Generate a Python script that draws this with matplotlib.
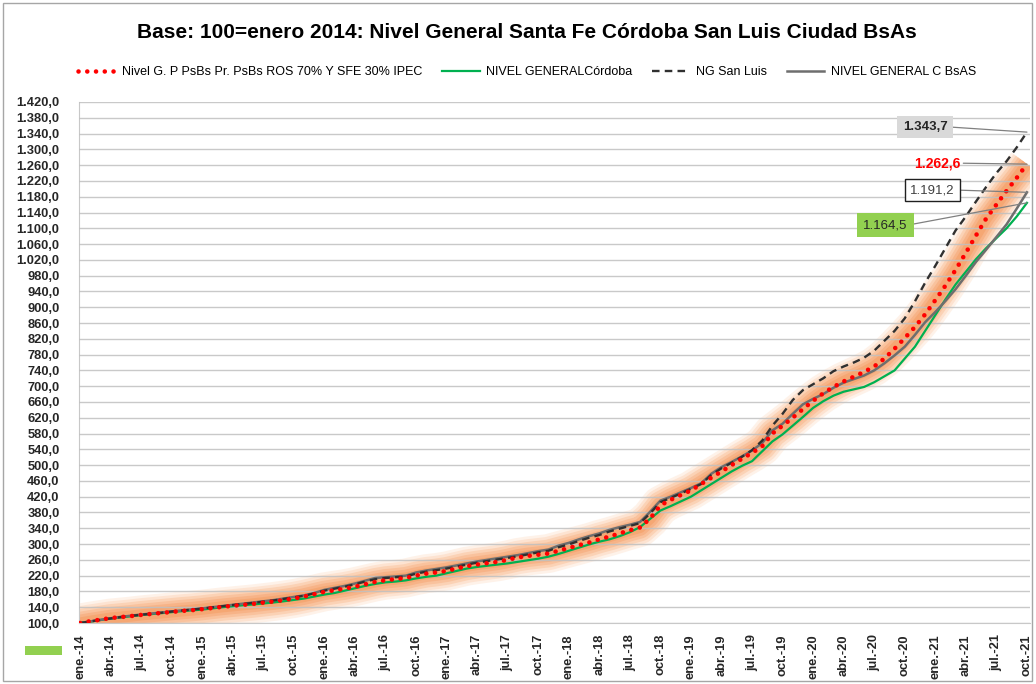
import matplotlib
matplotlib.use("Agg")
import matplotlib.pyplot as plt
from matplotlib.lines import Line2D
from matplotlib.patches import Rectangle

# 1. Data (monthly index, base 100 = enero 2014, ene-14 .. oct-21)
santa_fe = [100.0, 104.5, 108.5, 112.5, 115.0, 117.5, 120.5, 123.0, 125.5, 128.0, 130.5, 132.5,
            135.0, 138.0, 141.0, 143.5, 146.0, 148.5, 151.5, 154.5, 158.0, 162.0, 167.0, 173.0,
            179.0, 183.0, 187.0, 192.0, 198.0, 204.0, 208.5, 211.0, 214.0, 220.0, 225.0, 228.0,
            232.0, 238.0, 244.0, 248.0, 251.5, 255.0, 260.0, 266.0, 270.0, 273.0, 276.0, 283.0,
            290.0, 297.0, 304.0, 312.0, 319.0, 327.0, 335.0, 342.0, 365.0, 398.0, 412.0, 424.0,
            436.0, 452.0, 468.0, 484.0, 500.0, 516.0, 531.0, 548.0, 580.0, 600.0, 620.0, 642.0,
            663.0, 682.0, 698.0, 712.0, 724.0, 736.0, 750.0, 770.0, 795.0, 822.0, 850.0, 882.0,
            918.0, 955.0, 995.0, 1038.0, 1082.0, 1125.0, 1160.0, 1195.0, 1228.0, 1262.6]

cordoba = [100.0, 103.5, 107.5, 111.0, 114.0, 117.0, 120.0, 122.5, 125.0, 127.5, 130.0, 132.0,
           134.0, 137.0, 140.0, 142.5, 145.0, 147.0, 149.5, 152.0, 155.0, 158.5, 162.0, 167.0,
           172.0, 176.0, 182.0, 188.0, 194.0, 199.0, 203.0, 205.0, 208.0, 213.0, 217.0, 220.0,
           226.0, 232.0, 238.0, 242.0, 245.0, 248.0, 251.0, 255.0, 259.0, 263.0, 268.0, 275.0,
           283.0, 291.0, 299.0, 306.0, 312.0, 320.0, 330.0, 343.0, 364.0, 385.0, 396.0, 408.0,
           420.0, 436.0, 452.0, 468.0, 484.0, 498.0, 510.0, 535.0, 560.0, 578.0, 600.0, 622.0,
           645.0, 662.0, 676.0, 686.0, 692.0, 698.0, 710.0, 725.0, 740.0, 770.0, 800.0, 840.0,
           880.0, 920.0, 958.0, 990.0, 1022.0, 1050.0, 1075.0, 1100.0, 1130.0, 1164.5]

san_luis = [100.0, 104.0, 108.0, 111.5, 115.0, 118.0, 121.0, 123.5, 126.0, 129.0, 131.5, 134.0,
            136.5, 139.5, 142.5, 145.5, 148.0, 151.0, 154.0, 157.0, 161.0, 165.0, 169.0, 175.0,
            182.0, 187.0, 192.0, 198.0, 205.0, 211.0, 214.0, 216.0, 218.0, 225.0, 230.0, 234.0,
            238.0, 243.0, 248.0, 253.0, 257.0, 261.0, 265.0, 269.0, 274.0, 279.0, 283.0, 292.0,
            299.0, 308.0, 316.0, 323.0, 332.0, 339.0, 346.0, 353.0, 378.0, 406.0, 417.0, 428.0,
            440.0, 452.0, 475.0, 492.0, 506.0, 521.0, 538.0, 562.0, 600.0, 630.0, 665.0, 690.0,
            705.0, 720.0, 738.0, 750.0, 760.0, 772.0, 790.0, 815.0, 840.0, 872.0, 915.0, 962.0,
            1005.0, 1050.0, 1095.0, 1130.0, 1168.0, 1205.0, 1240.0, 1270.0, 1305.0, 1343.7]

caba = [100.0, 104.0, 108.0, 112.0, 115.5, 118.5, 121.5, 124.0, 126.5, 129.5, 132.0, 134.5,
        137.0, 140.0, 143.0, 146.0, 149.0, 152.0, 155.0, 158.0, 162.0, 166.0, 170.0, 176.0,
        184.0, 189.0, 194.0, 200.0, 207.0, 214.0, 216.0, 218.0, 220.0, 228.0, 233.0, 237.0,
        241.0, 246.0, 251.0, 256.0, 260.0, 264.0, 268.0, 272.0, 277.0, 282.0, 286.0, 296.0,
        303.0, 312.0, 320.0, 327.0, 336.0, 343.0, 349.0, 356.0, 382.0, 410.0, 420.0, 431.0,
        442.0, 454.0, 478.0, 495.0, 508.0, 522.0, 537.0, 556.0, 588.0, 605.0, 630.0, 654.0,
        668.0, 680.0, 696.0, 709.0, 718.0, 727.0, 740.0, 758.0, 778.0, 800.0, 830.0, 862.0,
        888.0, 916.0, 946.0, 980.0, 1015.0, 1046.0, 1078.0, 1110.0, 1150.0, 1191.2]

meses = ["ene.", "abr.", "jul.", "oct."]
anios = ["14", "15", "16", "17", "18", "19", "20", "21"]
x_labels = [f"{m}-{a}" for a in anios for m in meses]

titulo = "Base: 100=enero 2014: Nivel General Santa Fe Córdoba San Luis Ciudad BsAs"
nombres = ["Nivel G. P PsBs Pr. PsBs ROS 70% Y SFE 30% IPEC", "NIVEL GENERALCórdoba",
           "NG San Luis", "NIVEL GENERAL C BsAS"]

def fmt_ar(v, dec=1):
    s = f"{v:,.{dec}f}"
    return s.replace(",", "X").replace(".", ",").replace("X", ".")

# 2. Figure
plt.rcParams["font.family"] = ["Liberation Sans", "DejaVu Sans"]
W, H = 1036, 684
fig = plt.figure(figsize=(W / 100, H / 100), dpi=100)
ax = fig.add_axes([79 / W, 1 - 623 / H, (1030 - 79) / W, (623 - 102) / H])

meses_idx = list(range(len(santa_fe)))

# orange glow around the Santa Fe series (opaque layers, light -> strong)
glow = [(28, "#FEF2E9"), (24, "#FDE3D1"), (20, "#FBD2B5"), (16, "#F9C29D"),
        (12, "#F7B387"), (8, "#F5A773")]
for w, c in glow:
    ax.plot(meses_idx, santa_fe, color=c, lw=w, solid_capstyle="butt",
            solid_joinstyle="round", zorder=1)

ax.plot(meses_idx, cordoba, color="#00B050", lw=1.6, zorder=3)
ax.plot(meses_idx, caba, color="#6E6E6E", lw=1.8, zorder=3)
ax.plot(meses_idx, san_luis, color="#303030", lw=1.7, linestyle=(0, (3.2, 2.2)), zorder=4)
ax.plot(meses_idx, santa_fe, color="#FF0000", lw=3.3, linestyle=(0, (0.01, 1.9)),
        dash_capstyle="round", zorder=5)

# 3. Axes styling
ax.set_xlim(-0.1, 93.3)
ax.set_ylim(100, 1420)
ax.set_yticks(range(100, 1421, 40))
ax.set_yticklabels([fmt_ar(v) for v in range(100, 1421, 40)])
ax.set_xticks(range(0, 94, 3))
ax.set_xticklabels(x_labels, rotation=90)
ax.tick_params(axis="y", length=0, pad=14, labelsize=9.3, colors="#262626")
ax.tick_params(axis="x", length=0, pad=8, labelsize=9.3, colors="#262626")
for lab in ax.get_xticklabels() + ax.get_yticklabels():
    lab.set_fontweight("bold")
ax.grid(axis="y", color="#C0C0C0", lw=1, alpha=0.85, zorder=2)
ax.set_axisbelow(False)
for side in ["top", "right"]:
    ax.spines[side].set_visible(False)
ax.spines["left"].set_color("#C8C8C8")
ax.spines["bottom"].set_color("#C8C8C8")

# 4. Value labels with leader lines
arrow = dict(arrowstyle="-", color="#808080", lw=0.9, relpos=(1, 0.5), shrinkA=0, shrinkB=0)
ax.annotate(fmt_ar(san_luis[-1]), xy=(93, san_luis[-1]), xytext=(83.0, 1357), ha="center",
            va="center", fontsize=9.5, fontweight="bold", color="#262626",
            bbox=dict(boxstyle="square,pad=0.4", fc="#D9D9D9", ec="none"), arrowprops=arrow,
            zorder=6)
ax.annotate(fmt_ar(santa_fe[-1]), xy=(93, santa_fe[-1]), xytext=(84.2, 1265), ha="center",
            va="center", fontsize=10, fontweight="bold", color="#FF0000", arrowprops=arrow,
            zorder=6)
ax.annotate(fmt_ar(caba[-1]), xy=(93, caba[-1]), xytext=(83.7, 1197), ha="center",
            va="center", fontsize=9.5, color="#404040",
            bbox=dict(boxstyle="square,pad=0.4", fc="white", ec="#202020", lw=1), arrowprops=arrow,
            zorder=6)
ax.annotate(fmt_ar(cordoba[-1]), xy=(93, cordoba[-1]), xytext=(79.1, 1108), ha="center",
            va="center", fontsize=9.5, color="#262626",
            bbox=dict(boxstyle="square,pad=0.45", fc="#92D050", ec="none"), arrowprops=arrow,
            zorder=6)

# 5. Title, legend, extras
fig.text(527 / W, 1 - 32 / H, titulo, ha="center", va="center", fontsize=15, fontweight="bold")

handles = [
    Line2D([], [], color="#FF0000", lw=3.3, linestyle=(0, (0.01, 1.9)), dash_capstyle="round"),
    Line2D([], [], color="#00B050", lw=1.6),
    Line2D([], [], color="#303030", lw=1.7, linestyle=(0, (3.2, 2.2))),
    Line2D([], [], color="#6E6E6E", lw=1.8),
]
fig.legend(handles, nombres, loc="center", bbox_to_anchor=(527 / W, 1 - 72 / H), ncol=4,
           frameon=False, fontsize=9, handlelength=3.0, handletextpad=0.5, columnspacing=1.6)

fig.patches.append(Rectangle((25 / W, 1 - 655 / H), 37 / W, 9 / H, transform=fig.transFigure,
                             fc="#92D050", ec="none"))
fig.patches.append(Rectangle((3 / W, 3 / H), 1029 / W, 678 / H, transform=fig.transFigure,
                             fill=False, ec="#A6A6A6", lw=1))

fig.savefig("out.png", dpi=100)
